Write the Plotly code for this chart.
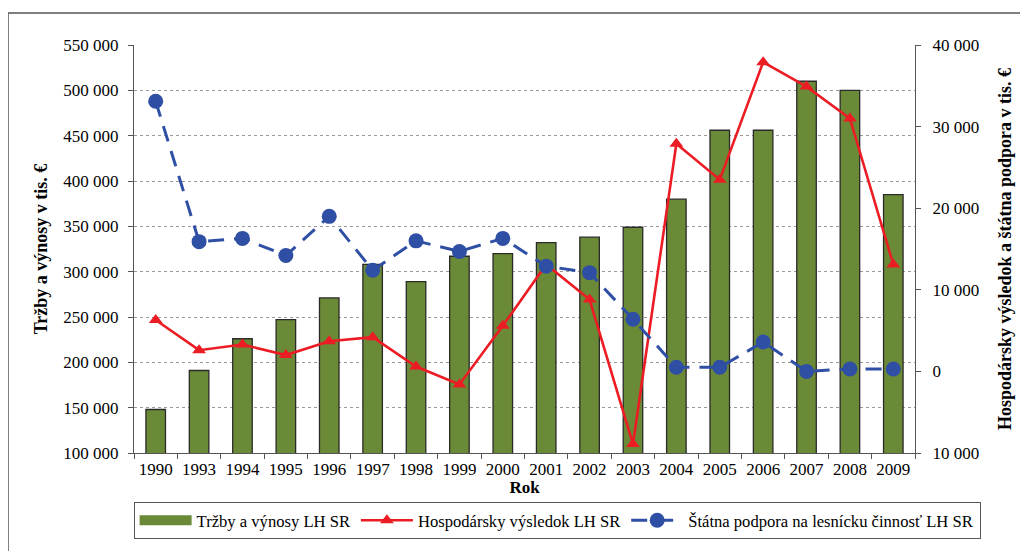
import plotly.graph_objects as go

years = ["1990", "1993", "1994", "1995", "1996", "1997", "1998", "1999", "2000",
         "2001", "2002", "2003", "2004", "2005", "2006", "2007", "2008", "2009"]
trzby = [148000, 191000, 226000, 247000, 271000, 308000, 289000, 317000, 320000,
         332000, 338000, 349000, 380000, 456000, 456000, 510000, 500000, 385000]
hosp_vysledok = [6300, 2600, 3300, 2000, 3700, 4200, 600, -1600, 5600,
                 13100, 8800, -8900, 27900, 23500, 37900, 34900, 31000, 13100]
statna_podpora = [33100, 15900, 16300, 14200, 19000, 12400, 16000, 14700, 16300,
                  12900, 12100, 6400, 500, 500, 3600, 0, 300, 300]

left_tickvals = [100000, 150000, 200000, 250000, 300000, 350000, 400000, 450000, 500000, 550000]
left_ticktext = ["100 000", "150 000", "200 000", "250 000", "300 000", "350 000",
                 "400 000", "450 000", "500 000", "550 000"]
right_tickvals = [-10000, 0, 10000, 20000, 30000, 40000]
right_ticktext = ["10 000", "0", "10 000", "20 000", "30 000", "40 000"]

FONT = "'Liberation Serif', 'Times New Roman', Times, serif"
W, H = 1028, 551
OFF = 8  # page offset of the figure in the screenshot
# plot area in screenshot pixels
SX0, SX1, SY0, SY1 = 134, 915, 45, 453
L = SX0 - OFF
T = SY0 - OFF
R = W - (SX1 - OFF)
B = H - (SY1 - OFF)
pw, ph = W - L - R, H - T - B

def px_x(p):
    return (p - OFF - L) / pw

def px_y(p):
    return (H - B - (p - OFF)) / ph

GREEN = "#6b8a37"
RED = "#ec1c24"
BLUE = "#2e4fa3"

fig = go.Figure()
fig.add_trace(go.Bar(
    x=years, y=trzby, name="Tržby a výnosy LH SR",
    marker=dict(color=GREEN, line=dict(color="#2a2a2a", width=1.3)),
    yaxis="y", showlegend=False,
))
# legend-only entry to show the wide rectangle swatch of the bars
fig.add_trace(go.Scatter(
    x=[None], y=[None], name="Tržby a výnosy LH SR", mode="lines",
    line=dict(color=GREEN, width=11), yaxis="y",
))
fig.add_trace(go.Scatter(
    x=years, y=hosp_vysledok, name="Hospodársky výsledok LH SR",
    mode="lines+markers",
    line=dict(color=RED, width=2.6),
    marker=dict(symbol="triangle-up", size=12, color=RED),
    yaxis="y2",
))
fig.add_trace(go.Scatter(
    x=years, y=statna_podpora, name="Štátna podpora na lesnícku činnosť LH SR",
    mode="lines+markers",
    line=dict(color=BLUE, width=3, dash="16px,10px"),
    marker=dict(symbol="circle", size=15, color=BLUE),
    yaxis="y2",
))

fig.update_layout(
    width=W, height=H,
    margin=dict(l=L, r=R, t=T, b=B, autoexpand=False),
    paper_bgcolor="white", plot_bgcolor="white",
    font=dict(family=FONT, size=17, color="black"),
    bargap=0.55,
    showlegend=True,
    legend=dict(
        orientation="h", x=-0.0005, y=px_y(502), xanchor="left", yanchor="top",
        bordercolor="#555555", borderwidth=1, bgcolor="white",
        font=dict(family=FONT, size=16.6, color="black"),
        itemwidth=52,
    ),
    xaxis=dict(
        type="category", range=[-0.5, 17.5],
        showline=True, linecolor="#555555", linewidth=1.2,
        ticks="outside", tickson="boundaries", ticklen=5, tickcolor="#555555",
        tickangle=0,
        tickfont=dict(family=FONT, size=17),
        title=dict(text="<b>Rok</b>", font=dict(family=FONT, size=17), standoff=0),
        automargin=False,
    ),
    yaxis=dict(
        range=[100000, 550000],
        tickvals=left_tickvals, ticktext=left_ticktext,
        showline=True, linecolor="#555555", linewidth=1.2,
        ticks="outside", ticklen=5, tickcolor="#555555",
        showgrid=True, gridcolor="#999999", griddash="dot", gridwidth=1,
        zeroline=False,
        tickfont=dict(family=FONT, size=17),
        ticklabelstandoff=6,
        title=dict(text="<b>Tržby a výnosy v tis. €</b>", font=dict(family=FONT, size=18), standoff=10),
        automargin=False,
    ),
    yaxis2=dict(
        range=[-10000, 40000], overlaying="y", side="right",
        tickvals=right_tickvals, ticktext=right_ticktext,
        showline=True, linecolor="#555555", linewidth=1.2,
        ticks="outside", ticklen=5, tickcolor="#555555",
        showgrid=False, zeroline=False,
        tickfont=dict(family=FONT, size=17),
        ticklabelstandoff=8,
        title=dict(text="<b>Hospodársky výsledok a štátna podpora v tis. €</b>",
                   font=dict(family=FONT, size=18), standoff=20),
        automargin=False,
    ),
    shapes=[dict(
        type="rect", xref="paper", yref="paper",
        x0=px_x(8), x1=px_x(1045), y0=px_y(575), y1=px_y(13),
        line=dict(color="#555555", width=1.5), fillcolor="rgba(0,0,0,0)",
        layer="below",
    )],
)

fig.write_html("out.html")
